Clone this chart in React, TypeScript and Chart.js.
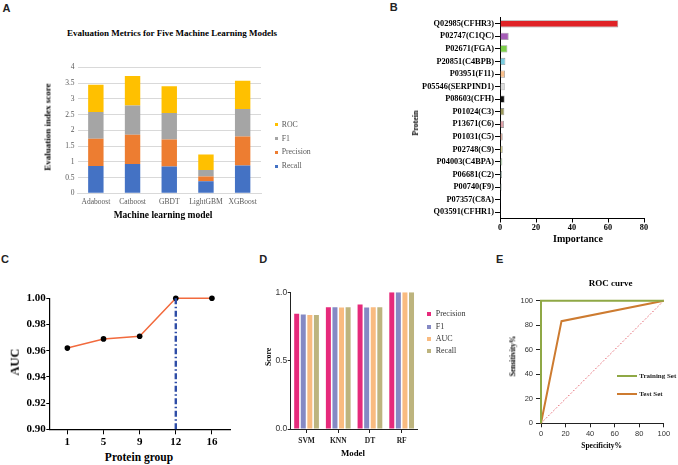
import React, { useEffect, useRef } from 'react';
import { Chart, registerables } from 'chart.js';

Chart.register(...registerables);

const SERIF = 'Liberation Serif';
const SANS = 'Liberation Sans';

// ---------- Panel A data ----------
const modelsA = ['Adaboost', 'Catboost', 'GBDT', 'LightGBM', 'XGBoost'];
const recallA = [0.87, 0.93, 0.85, 0.38, 0.88];
const precisionA = [0.86, 0.93, 0.86, 0.15, 0.92];
const f1A = [0.85, 0.93, 0.84, 0.21, 0.88];
const rocA = [0.87, 0.93, 0.85, 0.49, 0.89];
const seriesNamesA = ['Recall', 'Precision', 'F1', 'ROC'];
const seriesColorsA = ['#4472C4', '#ED7D31', '#A5A5A5', '#FFC000'];

// ---------- Panel B data ----------
const proteins = [
  'Q02985(CFHR3)', 'P02747(C1QC)', 'P02671(FGA)', 'P20851(C4BPB)', 'P03951(F11)',
  'P05546(SERPIND1)', 'P08603(CFH)', 'P01024(C3)', 'P13671(C6)', 'P01031(C5)',
  'P02748(C9)', 'P04003(C4BPA)', 'P06681(C2)', 'P00740(F9)', 'P07357(C8A)', 'Q03591(CFHR1)',
];
const importance = [65.7, 4.8, 4.1, 3.0, 2.8, 2.6, 2.6, 2.4, 2.2, 1.5, 1.5, 1.3, 1.1, 0.9, 0.5, 0.1];
const importanceColors = [
  '#E02226', '#A55DB6', '#7ECF4C', '#7ACDE0', '#F8C08E', '#DCDCDC', '#111111', '#9D9A5E',
  '#DFA2AA', '#D9A99A', '#D4CF8C', '#A9D2A2', '#A9D5C9', '#B3D2C3', '#2C3B6B', '#8899AA',
];

// ---------- Panel C data ----------
const proteinGroups = ['1', '5', '9', '12', '16'];
const aucC = [0.962, 0.969, 0.971, 1.0, 1.0];
const cutoffGroup = '12';
const aucMin = 0.9;
const aucMax = 1.0;

// ---------- Panel D data ----------
const modelsD = ['SVM', 'KNN', 'DT', 'RF'];
const precisionD = [0.844, 0.89, 0.91, 1.0];
const f1D = [0.837, 0.89, 0.888, 1.0];
const aucD = [0.834, 0.888, 0.89, 1.0];
const recallD = [0.834, 0.89, 0.89, 1.0];
const seriesNamesD = ['Precision', 'F1', 'AUC', 'Recall'];
const seriesColorsD = ['#E62A7B', '#8589C4', '#F9BB80', '#BDB47E'];

// ---------- Panel E data ----------
const trainingSet = [{ x: 0, y: 0 }, { x: 0, y: 100 }, { x: 100, y: 100 }];
const testSet = [{ x: 0, y: 0 }, { x: 16.7, y: 83.3 }, { x: 100, y: 100 }];
const chanceLine = [{ x: 0, y: 0 }, { x: 100, y: 100 }];
const rocNames = ['Training Set', 'Test Set'];
const rocColors = ['#8FA845', '#CD7B30'];

type Box = { left: number; top: number; width: number; height: number };
type Area = { x0: number; y0: number; x1: number; y1: number };

function ChartPanel({ box, area, build, xKey, yKey }: { box: Box; area: Area; build: () => any; xKey: string; yKey: string }) {
  const ref = useRef<HTMLCanvasElement>(null);
  useEffect(() => {
    const cfg = build();
    cfg.options = cfg.options || {};
    cfg.options.animation = false;
    cfg.options.responsive = false;
    cfg.options.devicePixelRatio = window.devicePixelRatio || 1;
    cfg.options.layout = {
      padding: { left: 0, bottom: 0, top: area.y0 - box.top, right: box.left + box.width - area.x1 },
    };
    cfg.options.plugins = { ...(cfg.options.plugins || {}), legend: { display: false }, tooltip: { enabled: false } };
    const sx = cfg.options.scales[xKey];
    const sy = cfg.options.scales[yKey];
    sx.afterFit = (s: any) => { s.height = box.top + box.height - area.y1; };
    sy.afterFit = (s: any) => { s.width = area.x0 - box.left; };
    const chart = new Chart(ref.current as HTMLCanvasElement, cfg);
    return () => chart.destroy();
  }, []);
  return (
    <canvas
      ref={ref}
      width={box.width}
      height={box.height}
      style={{ position: 'absolute', left: box.left, top: box.top, width: box.width, height: box.height }}
    />
  );
}

function Txt({ x, y, text, size, bold, family, color, rotate, align }: any) {
  const tx = align === 'left' ? '0' : align === 'right' ? '-100%' : '-50%';
  return (
    <div
      style={{
        position: 'absolute', left: x, top: y, whiteSpace: 'nowrap', lineHeight: 1,
        fontSize: size, fontWeight: bold ? 'bold' : 'normal', fontFamily: family || SERIF,
        color: color || '#000',
        transform: `translate(${tx},-50%)${rotate ? ' rotate(-90deg)' : ''}`,
      }}
    >
      {text}
    </div>
  );
}

const axisTickFont = (size: number, family: string, bold = false) => ({ family, size, weight: bold ? 'bold' : 'normal' });

function buildA() {
  const series = [recallA, precisionA, f1A, rocA];
  return {
    type: 'bar',
    data: {
      labels: modelsA,
      datasets: series.map((d, i) => ({ label: seriesNamesA[i], data: d, backgroundColor: seriesColorsA[i], borderWidth: 0 })),
    },
    options: {
      datasets: { bar: { categoryPercentage: 1, barPercentage: 0.42 } },
      scales: {
        x: {
          stacked: true,
          grid: { display: false, drawTicks: false },
          border: { display: true, color: '#D9D9D9', width: 1 },
          ticks: { font: axisTickFont(7.5, SERIF), color: '#595959', padding: 4.2, maxRotation: 0, autoSkip: false },
        },
        y: {
          stacked: true, min: 0, max: 4,
          grid: { color: '#D9D9D9', drawTicks: false },
          border: { display: false },
          ticks: {
            stepSize: 0.5, font: axisTickFont(7.5, SERIF), color: '#595959', padding: 3,
            callback: (v: number) => String(Math.round(v * 10) / 10),
          },
        },
      },
    },
  };
}

function buildB() {
  return {
    type: 'bar',
    data: {
      labels: proteins,
      datasets: [{
        label: 'Importance', data: importance, backgroundColor: importanceColors,
        borderColor: 'rgba(70,70,70,0.55)', borderWidth: 0.8,
      }],
    },
    options: {
      indexAxis: 'y',
      datasets: { bar: { categoryPercentage: 1, barPercentage: 0.58 } },
      scales: {
        x: {
          type: 'linear', min: 0, max: 80,
          grid: { display: true, drawOnChartArea: false, drawTicks: true, tickLength: 4, tickColor: '#000', tickWidth: 1 },
          border: { color: '#000', width: 1 },
          ticks: { stepSize: 20, font: axisTickFont(8.3, SERIF, true), color: '#000', padding: 0.5, maxRotation: 0 },
        },
        y: {
          type: 'category',
          grid: { display: true, drawOnChartArea: false, drawTicks: true, tickLength: 5, tickColor: '#000', offset: false },
          border: { color: '#000', width: 1 },
          ticks: { font: axisTickFont(8.3, SERIF, true), color: '#000', padding: 1, autoSkip: false },
        },
      },
    },
  };
}

function buildC() {
  return {
    type: 'line',
    data: {
      labels: proteinGroups,
      datasets: [
        {
          label: 'cutoff', data: [{ x: cutoffGroup, y: aucMin }, { x: cutoffGroup, y: aucMax }],
          borderColor: '#2E4DA7', borderWidth: 2.4, borderDash: [6, 2.5, 1.5, 2.5], pointRadius: 0, order: 0, clip: false,
        },
        {
          label: 'AUC', data: aucC, borderColor: '#F26A3D', borderWidth: 1.5, pointRadius: 2.8,
          pointBackgroundColor: '#000', pointBorderColor: '#000', pointBorderWidth: 0, order: 1, clip: false,
        },
      ],
    },
    options: {
      scales: {
        x: {
          type: 'category', offset: true,
          grid: { display: true, drawOnChartArea: false, drawTicks: true, tickLength: 5, tickColor: '#000', offset: false },
          border: { color: '#000', width: 1.2 },
          ticks: { font: axisTickFont(11, SERIF, true), color: '#000', padding: 1, maxRotation: 0 },
        },
        y: {
          min: aucMin, max: aucMax,
          grid: { display: true, drawOnChartArea: false, drawTicks: true, tickLength: 3, tickColor: '#000' },
          border: { color: '#000', width: 1.2 },
          ticks: { stepSize: 0.02, font: axisTickFont(11, SERIF, true), color: '#000', padding: 0.5, callback: (v: number) => v.toFixed(2) },
        },
      },
    },
  };
}

function buildD() {
  const series = [precisionD, f1D, aucD, recallD];
  return {
    type: 'bar',
    data: {
      labels: modelsD,
      datasets: series.map((d, i) => ({ label: seriesNamesD[i], data: d, backgroundColor: seriesColorsD[i], borderWidth: 0 })),
    },
    options: {
      datasets: { bar: { categoryPercentage: 0.83, barPercentage: 0.76 } },
      scales: {
        x: {
          grid: { display: true, drawOnChartArea: false, drawTicks: true, tickLength: 4, tickColor: '#222', offset: false },
          border: { color: '#222', width: 1 },
          ticks: { font: axisTickFont(7.5, SERIF, true), color: '#222', padding: 3.5, maxRotation: 0 },
        },
        y: {
          min: 0, max: 1,
          grid: { display: true, drawOnChartArea: false, drawTicks: true, tickLength: 3, tickColor: '#222' },
          border: { color: '#222', width: 1 },
          ticks: { stepSize: 0.5, font: axisTickFont(8.5, SANS), color: '#333', padding: 0.5, callback: (v: number) => v.toFixed(1) },
        },
      },
    },
  };
}

function buildE() {
  return {
    type: 'line',
    data: {
      datasets: [
        { label: rocNames[0], data: trainingSet, borderColor: rocColors[0], borderWidth: 2, pointRadius: 0, clip: false },
        { label: rocNames[1], data: testSet, borderColor: rocColors[1], borderWidth: 2, pointRadius: 0, clip: false },
        { label: 'Reference', data: chanceLine, borderColor: '#E05561', borderWidth: 1, borderDash: [1.5, 2], pointRadius: 0, clip: false },
      ],
    },
    options: {
      scales: {
        x: {
          type: 'linear', min: 0, max: 100,
          grid: { display: true, drawOnChartArea: false, drawTicks: true, tickLength: 4, tickColor: '#222' },
          border: { color: '#222', width: 1 },
          ticks: { stepSize: 20, font: axisTickFont(7.5, SANS), color: '#333', padding: 2.2, maxRotation: 0 },
        },
        y: {
          type: 'linear', min: 0, max: 100,
          grid: { display: true, drawOnChartArea: false, drawTicks: true, tickLength: 5, tickColor: '#222' },
          border: { color: '#222', width: 1 },
          ticks: { stepSize: 20, font: axisTickFont(7.5, SANS), color: '#333', padding: 3 },
        },
      },
    },
  };
}

export default function App() {
  const legendAY = [166, 152.3, 138.7, 124.7];
  const legendDY = [314, 327, 339, 351];
  const legendEY = [376, 393.7];
  return (
    <div style={{ position: 'absolute', left: 0, top: 0, width: 678, height: 465, background: '#fff', overflow: 'hidden' }}>
      {/* Panel letters */}
      <Txt x={6.5} y={7.5} text="A" size={11} bold family={SANS} color="#222" />
      <Txt x={393.7} y={6.7} text="B" size={11} bold family={SANS} color="#222" />
      <Txt x={5} y={259} text="C" size={11} bold family={SANS} color="#222" />
      <Txt x={263.3} y={259} text="D" size={11} bold family={SANS} color="#222" />
      <Txt x={499.7} y={259} text="E" size={11} bold family={SANS} color="#222" />

      {/* Panel A */}
      <ChartPanel box={{ left: 30, top: 55, width: 240, height: 165 }} area={{ x0: 77.5, y0: 67.3, x1: 261, y1: 193.3 }} build={buildA} xKey="x" yKey="y" />
      <Txt x={172} y={33} text="Evaluation Metrics for Five Machine Learning Models" size={9} bold />
      <Txt x={48} y={127} text="Evaluation index score" size={9} bold rotate />
      <Txt x={163} y={216} text="Machine learning model" size={9.5} bold />
      {seriesNamesA.map((n, i) => (
        <React.Fragment key={n}>
          <div style={{ position: 'absolute', left: 274.5, top: legendAY[i] - 1.5, width: 3, height: 3, background: seriesColorsA[i] }} />
          <Txt x={281.7} y={legendAY[i]} text={n} size={7.8} align="left" color="#595959" />
        </React.Fragment>
      ))}

      {/* Panel B */}
      <ChartPanel box={{ left: 400, top: 5, width: 258, height: 230 }} area={{ x0: 500, y0: 17.5, x1: 644, y1: 218.5 }} build={buildB} xKey="x" yKey="y" />
      <Txt x={416} y={123} text="Protein" size={8} bold rotate />
      <Txt x={578} y={239} text="Importance" size={10} bold />

      {/* Panel C */}
      <ChartPanel box={{ left: 0, top: 285, width: 240, height: 165 }} area={{ x0: 49.3, y0: 298.3, x1: 230, y1: 429.3 }} build={buildC} xKey="x" yKey="y" />
      <Txt x={15} y={362} text="AUC" size={12.5} bold rotate />
      <Txt x={139} y={458} text="Protein group" size={11.5} bold />

      {/* Panel D */}
      <ChartPanel box={{ left: 250, top: 280, width: 180, height: 170 }} area={{ x0: 290.7, y0: 292.3, x1: 417.5, y1: 429 }} build={buildD} xKey="x" yKey="y" />
      <Txt x={269} y={357} text="Score" size={7.7} bold rotate />
      <Txt x={353} y={453} text="Model" size={8.8} bold />
      {seriesNamesD.map((n, i) => (
        <React.Fragment key={n}>
          <div style={{ position: 'absolute', left: 427, top: legendDY[i] - 2, width: 4, height: 4, background: seriesColorsD[i] }} />
          <Txt x={435.7} y={legendDY[i]} text={n} size={8} align="left" color="#333" />
        </React.Fragment>
      ))}

      {/* Panel E */}
      <ChartPanel box={{ left: 500, top: 288, width: 175, height: 160 }} area={{ x0: 541, y0: 300.7, x1: 663.8, y1: 423.3 }} build={buildE} xKey="x" yKey="y" />
      <Txt x={610.7} y={283.3} text="ROC curve" size={9} bold />
      <Txt x={513} y={356} text="Sensitivity%" size={7.5} bold rotate />
      <Txt x={601.7} y={445.7} text="Specificity%" size={7.5} bold />
      {rocNames.map((n, i) => (
        <React.Fragment key={n}>
          <div style={{ position: 'absolute', left: 617.3, top: legendEY[i] - 1, width: 19.4, height: 2, background: rocColors[i] }} />
          <Txt x={639.3} y={legendEY[i]} text={n} size={7} bold align="left" color="#222" />
        </React.Fragment>
      ))}
    </div>
  );
}
